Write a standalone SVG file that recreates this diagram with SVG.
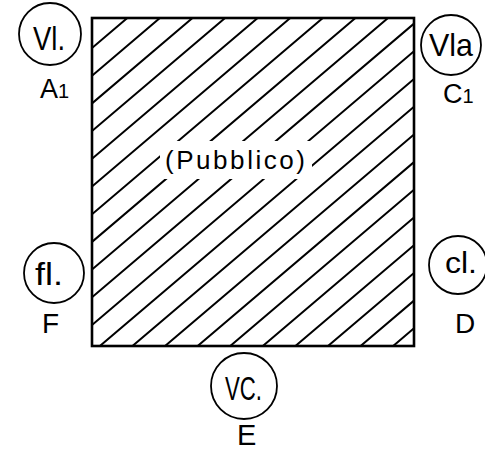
<svg xmlns="http://www.w3.org/2000/svg" width="485" height="450" viewBox="0 0 485 450">
<style>
.c{fill:none;stroke:#000;stroke-width:1.8}
.t{font-family:"Liberation Sans",Arial,sans-serif;fill:#000}
.hatch{fill:none;stroke:#000;stroke-width:2;stroke-linecap:round}
.box{fill:none;stroke:#000;stroke-width:2.6}
</style>
<defs>
<clipPath id="sq"><rect x="92" y="18" width="322" height="328"/></clipPath>
</defs>
<rect width="485" height="450" fill="#fff"/>
<g id="pubblico">
<path class="hatch" clip-path="url(#sq)" d="M92 48L414 -225.7M92 75.7L414 -198M92 103.4L414 -170.3M92 131.1L414 -142.6M92 158.8L414 -114.9M92 186.5L414 -87.2M92 214.2L414 -59.5M92 241.9L414 -31.8M92 269.6L414 -4.1M92 297.3L414 23.6M92 325L414 51.3M92 352.7L414 79M92 380.4L414 106.7M92 408.1L414 134.4M92 435.8L414 162.1M92 463.5L414 189.8M92 491.2L414 217.5M92 518.9L414 245.2M92 546.6L414 272.9M92 574.3L414 300.6M92 602L414 328.3"/>
<rect x="160" y="141" width="152" height="38" fill="#fff"/>
<rect class="box" x="92" y="18" width="322" height="328"/>
<text class="t" x="165" y="169" font-size="26" textLength="140" lengthAdjust="spacing">(Pubblico)</text>
</g>
<g id="A1">
<circle class="c" cx="50" cy="34" r="31"/>
<text class="t" x="33" y="50" font-size="34" textLength="32" lengthAdjust="spacingAndGlyphs">Vl.</text>
<text class="t" x="40" y="98" font-size="27">A<tspan font-size="20">1</tspan></text>
</g>
<g id="C1">
<circle class="c" cx="451" cy="45" r="30"/>
<text class="t" x="429" y="56" font-size="32" textLength="44" lengthAdjust="spacingAndGlyphs">Vla</text>
<text class="t" x="443" y="103" font-size="27">C<tspan font-size="20">1</tspan></text>
</g>
<g id="F">
<circle class="c" cx="54" cy="273" r="30"/>
<text class="t" x="35" y="285" font-size="32" textLength="28" lengthAdjust="spacingAndGlyphs">fl.</text>
<text class="t" x="42" y="333" font-size="28">F</text>
</g>
<g id="D">
<circle class="c" cx="458" cy="265" r="29"/>
<text class="t" x="445" y="273" font-size="30" textLength="32" lengthAdjust="spacingAndGlyphs">cl.</text>
<text class="t" x="455" y="333" font-size="28">D</text>
</g>
<g id="E">
<circle class="c" cx="244" cy="386" r="33"/>
<text class="t" x="225" y="400" font-size="34" textLength="37" lengthAdjust="spacingAndGlyphs">VC.</text>
<text class="t" x="237" y="445" font-size="29">E</text>
</g>
<g id="connectors"/>
</svg>
